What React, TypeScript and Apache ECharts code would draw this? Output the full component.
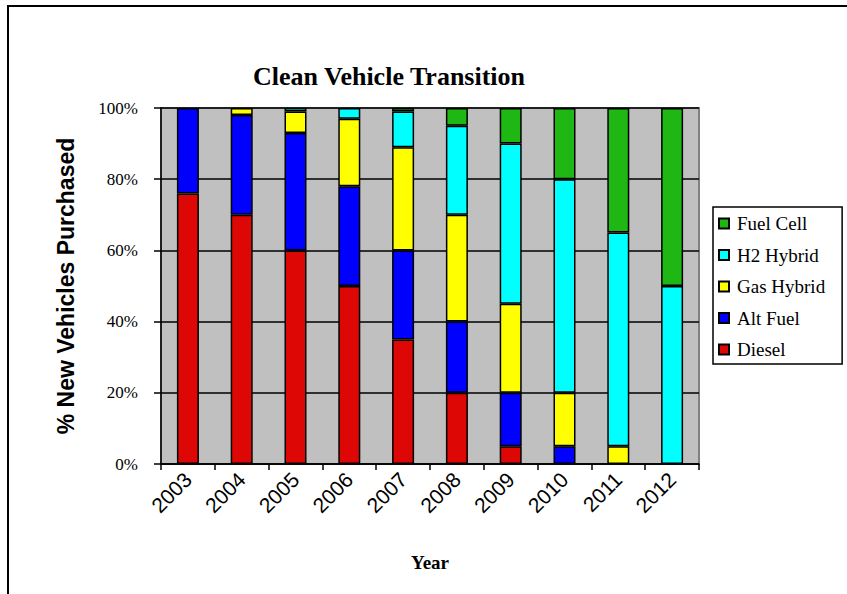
import React, { useEffect, useRef } from "react";
import * as echarts from "echarts";

const years = ["2003", "2004", "2005", "2006", "2007", "2008", "2009", "2010", "2011", "2012"];
const diesel = [76, 70, 60, 50, 35, 20, 5, 0, 0, 0];
const altFuel = [24, 28, 33, 28, 25, 20, 15, 5, 0, 0];
const gasHybrid = [0, 2, 6, 19, 29, 30, 25, 15, 5, 0];
const h2Hybrid = [0, 0, 1, 3, 10, 25, 45, 60, 60, 50];
const fuelCell = [0, 0, 0, 0, 1, 5, 10, 20, 35, 50];

const seriesNames = ["Diesel", "Alt Fuel", "Gas Hybrid", "H2 Hybrid", "Fuel Cell"];
const seriesData = [diesel, altFuel, gasHybrid, h2Hybrid, fuelCell];
const seriesColors = ["#dd0806", "#0000ff", "#ffff00", "#00ffff", "#1fb714"];
const legendOrder = ["Fuel Cell", "H2 Hybrid", "Gas Hybrid", "Alt Fuel", "Diesel"];

const SERIF = "'Liberation Serif', 'Times New Roman', serif";
const SANS = "'Liberation Sans', Arial, sans-serif";

export default function App() {
  const ref = useRef<HTMLDivElement>(null);
  useEffect(() => {
    if (!ref.current) return;
    const chart = echarts.init(ref.current, null, { renderer: "svg" });
    chart.setOption({
      animation: false,
      backgroundColor: "#ffffff",
      title: {
        text: "Clean Vehicle Transition",
        left: 384,
        top: 58,
        textAlign: "center",
        textStyle: { fontFamily: SERIF, fontWeight: "bold", fontSize: 26, color: "#000" },
      },
      graphic: [
        {
          type: "rect",
          shape: { x: 8, y: 6, width: 900, height: 700 },
          style: { fill: "none", stroke: "#000", lineWidth: 2 },
          silent: true,
        },
      ],
      legend: {
        orient: "vertical",
        left: 713,
        top: 207,
        data: legendOrder,
        itemWidth: 10,
        itemHeight: 10,
        itemGap: 12.5,
        padding: [7, 17, 5, 5],
        borderColor: "#000",
        borderWidth: 1.5,
        backgroundColor: "#fff",
        textStyle: { fontFamily: SERIF, fontSize: 19, color: "#000", lineHeight: 19, padding: [0, 0, 0, 3] },
        icon: "rect",
      },
      grid: {
        left: 161,
        right: 148,
        top: 108,
        bottom: 130,
        show: true,
        backgroundColor: "#c0c0c0",
        borderColor: "#808080",
        borderWidth: 2,
      },
      xAxis: {
        type: "category",
        data: years,
        name: "Year",
        nameLocation: "middle",
        nameGap: 89,
        nameTextStyle: { fontFamily: SERIF, fontWeight: "bold", fontSize: 19, color: "#000" },
        axisLine: { show: true, lineStyle: { color: "#000", width: 1.5 } },
        axisTick: { show: true, length: 6, lineStyle: { color: "#000", width: 1.5 } },
        axisLabel: {
          rotate: 45,
          margin: 12,
          fontFamily: SANS,
          fontSize: 21,
          color: "#000",
        },
      },
      yAxis: {
        type: "value",
        min: 0,
        max: 100,
        interval: 20,
        name: "% New Vehicles Purchased",
        nameLocation: "middle",
        nameGap: 84,
        nameRotate: 90,
        nameTextStyle: { fontFamily: SANS, fontWeight: "bold", fontSize: 23, color: "#000" },
        axisLine: { show: true, lineStyle: { color: "#000", width: 1.5 } },
        axisTick: { show: true, length: 7, lineStyle: { color: "#000", width: 1.5 } },
        axisLabel: {
          formatter: "{value}%",
          margin: 23,
          fontFamily: SERIF,
          fontSize: 17,
          color: "#000",
        },
        splitLine: { show: true, lineStyle: { color: "#000", width: 1.5 } },
      },
      series: seriesNames.map((name, i) => ({
        name,
        type: "bar",
        stack: "total",
        barWidth: 22,
        data: seriesData[i].map((v) => (v === 0 ? null : v)),
        itemStyle: { color: seriesColors[i], borderColor: "#000", borderWidth: 1.5 },
      })),
    });
    return () => chart.dispose();
  }, []);
  return (
    <div
      ref={ref}
      style={{ position: "fixed", left: 0, top: 0, width: 847, height: 594 }}
    />
  );
}
